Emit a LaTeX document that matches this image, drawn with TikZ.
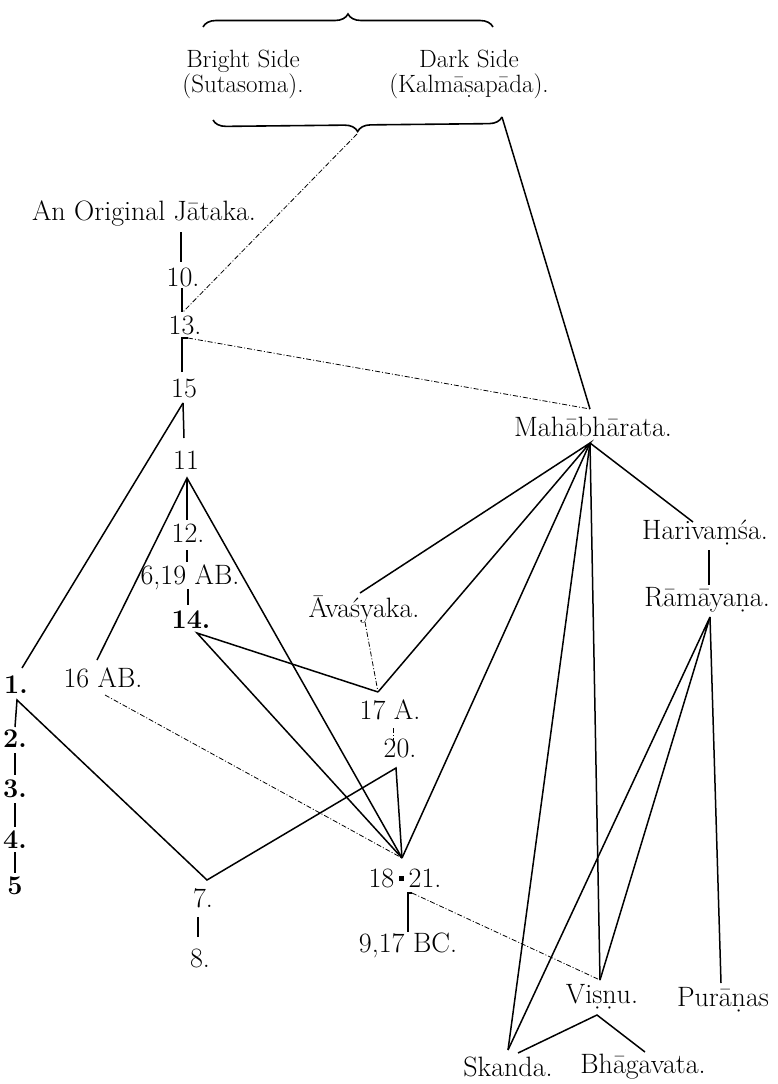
\documentclass[tikz,border=0pt]{standalone}
\usepackage{fontspec}
\usepackage{tikz}
\usetikzlibrary{decorations.pathreplacing}

\begin{document}
\begin{tikzpicture}[
                x=1pt, y=-1pt,
                every node/.style={inner sep=1pt, font=\fontsize{28}{28}\selectfont},
                side/.style={align=center, font=\fontsize{25}{25}\selectfont},
                bnum/.style={font=\fontsize{27}{27}\selectfont\bfseries},
                link/.style={-, line width=1.5pt},
                faint/.style={-, line width=0.8pt, dash pattern=on 5pt off 2pt on 1pt off 2pt},
                curly/.style={line width=1.6pt, decorate, decoration={brace, amplitude=13pt}}]

            \useasboundingbox (0,0) rectangle (778,1084);

            % Sides
            \node[side] (bright) at (243,74) {Bright Side\\(Sutasoma).};
            \node[side] (dark) at (469,74) {Dark Side\\(Kalmāṣapāda).};
            \coordinate (tl) at (203,27);
            \coordinate (tr) at (493,27);
            \coordinate (bl) at (213,120);
            \coordinate (br) at (502,117);
            \coordinate (tip) at (357,134);
            \draw[curly] (tl) -- (tr);
            \draw[curly] (br) -- (bl);

            % Jataka line
            \node (jataka) at (144,213) {An Original Jātaka.};
            \node (n10) at (183,277) {10.};
            \node (n13) at (185,325) {13.};
            \node (n15) at (184,388) {15};
            \node (n11) at (186,460) {11};
            \node (n12) at (188,533) {12.};
            \node (n619) at (190,577) {6,19 AB.};
            \node[bnum] (n14) at (191,620) {14.};
            \node (n16) at (103,678) {16 AB.};
            \node[bnum] (n1) at (16,685) {1.};
            \node[bnum] (n2) at (15,739) {2.};
            \node[bnum] (n3) at (15,789) {3.};
            \node[bnum] (n4) at (15,840) {4.};
            \node[bnum] (n5) at (15,886) {5};
            \node (n7) at (203,898) {7.};
            \node (n8) at (200,958) {8.};
            \node (n17a) at (390,710) {17 A.};
            \node (n20) at (400,748) {20.};
            \node (n1821) at (405,878) {18\,\raisebox{0.22em}{\rule{5pt}{4.5pt}}\,21.};
            \node (n917) at (408,945) {9,17 BC.};

            % Epics and Puranas
            \node (maha) at (593,427) {Mahābhārata.};
            \node (hari) at (705,533) {Harivaṃśa.};
            \node (rama) at (707,600) {Rāmāyaṇa.};
            \node (avas) at (364,610) {Āvaśyaka.};
            \node (visnu) at (602,997) {Viṣṇu.};
            \node (purana) at (723,1000) {Purāṇas};
            \node (skanda) at (508,1067) {Skanda.};
            \node (bhaga) at (643,1067) {Bhāgavata.};

            % ends of the connectors
            \coordinate (maha-n) at (590,409);
            \coordinate (maha-s) at (590,443);
            \coordinate (n13-c) at (182,338);
            \coordinate (n15-s) at (183,403);
            \coordinate (n11-s) at (187,478);
            \coordinate (n14-s) at (197,633);
            \coordinate (n1-s) at (17,700);
            \coordinate (n7-n) at (207,880);
            \coordinate (n20-s) at (396,768);
            \coordinate (n17a-n) at (378,692);
            \coordinate (n1821-n) at (402,858);
            \coordinate (n917-c) at (408,893);
            \coordinate (rama-s) at (710,617);
            \coordinate (visnu-n) at (600,980);
            \coordinate (visnu-s) at (597,1015);
            \coordinate (skanda-n) at (508,1050);

            \draw[link] (br) -- (maha-n);
            \draw[faint] (tip) -- (183,312);
            \draw[link] (181,232) -- (181,262);
            \draw[link] (182,288) -- (182,312);
            \draw[link] (182,372) -- (n13-c) -- (188,338);
            \draw[faint] (188,338) -- (maha-n);
            \draw[link] (n15-s) -- (22,668);
            \draw[link] (n15-s) -- (184,438);
            \draw[link] (97,660) -- (n11-s) -- (n1821-n);
            \draw[link] (n11-s) -- (187,520);
            \draw[link] (187,550) -- (187,562);
            \draw[link] (188,589) -- (188,605);
            \draw[link] (n17a-n) -- (n14-s) -- (n1821-n);
            \draw[faint] (105,695) -- (n1821-n);
            \draw[link] (15,727) -- (n1-s) -- (n7-n) -- (n20-s) -- (n1821-n);
            \draw[link] (15,753) -- (15,775);
            \draw[link] (15,803) -- (15,827);
            \draw[link] (15,852) -- (15,873);
            \draw[link] (198,917) -- (198,937);
            \draw[faint] (393,728) -- (393,740);
            \draw[faint] (365,622) -- (n17a-n);
            \draw[link] (360,593) -- (maha-s) -- (n17a-n);
            \draw[link] (maha-s) -- (n1821-n);
            \draw[link] (maha-s) -- (skanda-n);
            \draw[link] (maha-s) -- (visnu-n);
            \draw[link] (maha-s) -- (693,522);
            \draw[link] (709,550) -- (709,585);
            \draw[link] (skanda-n) -- (rama-s) -- (visnu-n);
            \draw[link] (rama-s) -- (721,983);
            \draw[link] (408,932) -- (n917-c) -- (412,893);
            \draw[faint] (412,893) -- (visnu-n);
            \draw[link] (518,1053) -- (visnu-s) -- (645,1052);

        \end{tikzpicture}
\end{document}
